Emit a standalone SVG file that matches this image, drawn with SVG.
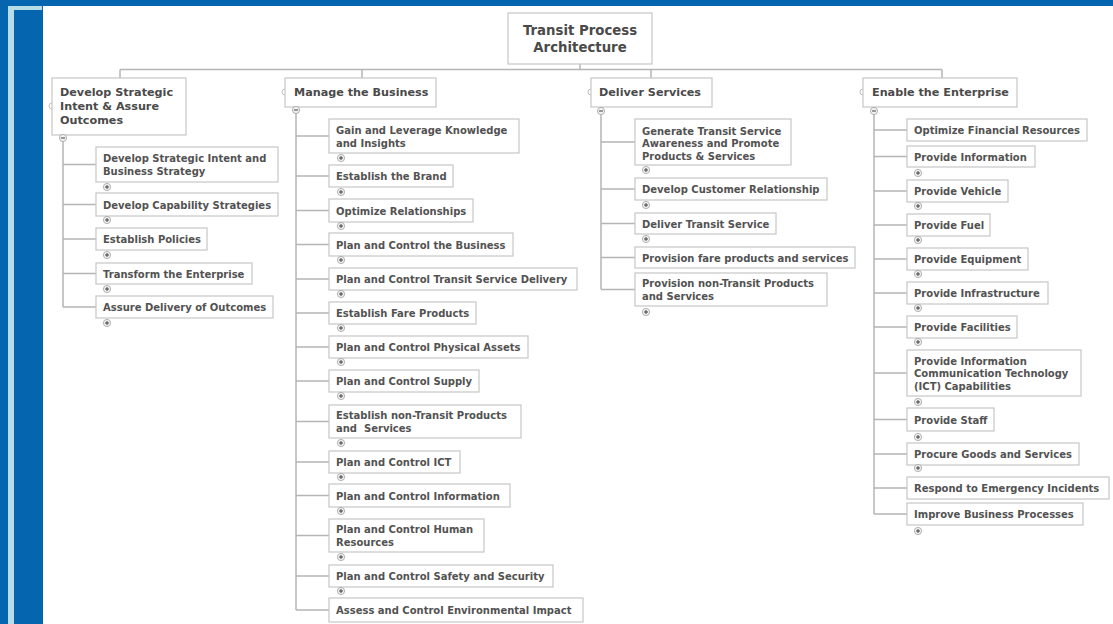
<svg xmlns="http://www.w3.org/2000/svg" width="1113" height="624" viewBox="0 0 1113 624">
  <style>
    .box { fill: #ffffff; stroke: #c6c6c6; stroke-width: 1.2; }
    .t { font-family: "DejaVu Sans", Verdana, sans-serif; font-weight: bold; font-size: 10px; fill: #525252; }
    .h { font-family: "DejaVu Sans", Verdana, sans-serif; font-weight: bold; font-size: 11.2px; fill: #4a4a4a; }
    .r { font-family: "DejaVu Sans", Verdana, sans-serif; font-weight: bold; font-size: 13.3px; fill: #4a4a4a; }
    .conn { fill: none; stroke: #b5b5b5; stroke-width: 1.5; }
    .port { fill: #ffffff; stroke: #c0c0c0; stroke-width: 1; }
  </style>
  <defs>
    <g id="plus">
      <circle r="3.6" fill="#f2f2f2" stroke="#a0a0a0" stroke-width="0.8"/>
      <path d="M-2 0H2M0 -2V2" stroke="#404040" stroke-width="1"/>
    </g>
    <g id="minus">
      <circle r="3.6" fill="#f2f2f2" stroke="#a0a0a0" stroke-width="0.8"/>
      <path d="M-2 0H2" stroke="#404040" stroke-width="1"/>
    </g>
  </defs>

  <!-- page frame -->
  <rect x="0" y="0" width="1113" height="624" fill="#ffffff"/>
  <rect x="0" y="0" width="1113" height="6" fill="#0565ae"/>
  <rect x="0" y="0" width="43" height="624" fill="#0565ae"/>
  <rect x="8" y="6" width="34" height="4" fill="#b7dde6"/>
  <rect x="8" y="6" width="6" height="618" fill="#b7dde6"/>

  <!-- connectors -->
  <g id="connectors" class="conn">
    <path d="M580 64V69.5M120 69.5H942M120 69.5V78M362 69.5V78M651 69.5V78M942 69.5V78"/>
    <!-- Develop Strategic Intent branch -->
    <path d="M63 141V307M63 164.5H96M63 204.5H96M63 239H96M63 273.5H96M63 307H96"/>
    <!-- Manage the Business branch -->
    <path d="M296 113V610M296 136H329M296 176H329M296 210.5H329M296 244.5H329M296 279H329M296 313H329M296 347H329M296 381H329M296 421.5H329M296 462H329M296 495.5H329M296 535.5H329M296 576H329M296 610H329"/>
    <!-- Deliver Services branch -->
    <path d="M601 115V289.5M601 142H635M601 189H635M601 223.5H635M601 257.5H635M601 289.5H635"/>
    <!-- Enable the Enterprise branch -->
    <path d="M874 114V514M874 130H907M874 156.5H907M874 191H907M874 225H907M874 259H907M874 293H907M874 327H907M874 373H907M874 419.5H907M874 454H907M874 488H907M874 514H907"/>
  </g>

  <!-- root -->
  <g id="root">
    <rect class="box" x="508" y="13" width="144" height="51"/>
    <text class="r" x="580" y="34.5" text-anchor="middle">Transit Process</text>
    <text class="r" x="580" y="51.5" text-anchor="middle">Architecture</text>
  </g>

  <!-- level 1 -->
  <g id="strategic-intent">
    <circle class="port" cx="52" cy="106" r="3"/>
    <rect class="box" x="52" y="78" width="134" height="57"/>
    <text class="h" x="60" y="96">Develop Strategic</text>
    <text class="h" x="60" y="110">Intent &amp; Assure</text>
    <text class="h" x="60" y="124">Outcomes</text>
    <use href="#minus" x="63" y="138"/>
  </g>
  <g id="manage-business">
    <circle class="port" cx="285" cy="92" r="3"/>
    <rect class="box" x="285" y="78" width="151" height="29"/>
    <text class="h" x="294" y="96">Manage the Business</text>
    <use href="#minus" x="296" y="110"/>
  </g>
  <g id="deliver-services">
    <circle class="port" cx="591" cy="92" r="3"/>
    <rect class="box" x="591" y="78" width="121" height="29"/>
    <text class="h" x="599" y="96">Deliver Services</text>
    <use href="#minus" x="601" y="111"/>
  </g>
  <g id="enable-enterprise">
    <circle class="port" cx="863" cy="92" r="3"/>
    <rect class="box" x="863" y="78" width="154" height="29"/>
    <text class="h" x="872" y="96">Enable the Enterprise</text>
    <use href="#minus" x="874" y="111"/>
  </g>

  <!-- Develop Strategic Intent children -->
  <g id="si-1"><rect class="box" x="96" y="147" width="182" height="35"/><text class="t" x="103" y="161.5">Develop Strategic Intent and</text><text class="t" x="103" y="174.5">Business Strategy</text><use href="#plus" x="107" y="187"/></g>
  <g id="si-2"><rect class="box" x="96" y="193" width="182" height="23"/><text class="t" x="103" y="208.5">Develop Capability Strategies</text><use href="#plus" x="107" y="220"/></g>
  <g id="si-3"><rect class="box" x="96" y="228" width="111" height="22"/><text class="t" x="103" y="243">Establish Policies</text><use href="#plus" x="107" y="255"/></g>
  <g id="si-4"><rect class="box" x="96" y="263" width="156" height="21"/><text class="t" x="103" y="277.5">Transform the Enterprise</text><use href="#plus" x="107" y="289"/></g>
  <g id="si-5"><rect class="box" x="96" y="296" width="177" height="22"/><text class="t" x="103" y="311">Assure Delivery of Outcomes</text><use href="#plus" x="107" y="323"/></g>

  <!-- Manage the Business children -->
  <g id="mb-1"><rect class="box" x="329" y="119" width="190" height="34"/><text class="t" x="336" y="133.5">Gain and Leverage Knowledge</text><text class="t" x="336" y="146.5">and Insights</text><use href="#plus" x="341" y="158"/></g>
  <g id="mb-2"><rect class="box" x="329" y="165" width="124" height="22"/><text class="t" x="336" y="180">Establish the Brand</text><use href="#plus" x="341" y="192"/></g>
  <g id="mb-3"><rect class="box" x="329" y="199" width="144" height="23"/><text class="t" x="336" y="214.5">Optimize Relationships</text><use href="#plus" x="341" y="226"/></g>
  <g id="mb-4"><rect class="box" x="329" y="233" width="184" height="23"/><text class="t" x="336" y="248.5">Plan and Control the Business</text><use href="#plus" x="341" y="260"/></g>
  <g id="mb-5"><rect class="box" x="329" y="268" width="248" height="22"/><text class="t" x="336" y="283">Plan and Control Transit Service Delivery</text><use href="#plus" x="341" y="294"/></g>
  <g id="mb-6"><rect class="box" x="329" y="302" width="147" height="22"/><text class="t" x="336" y="317">Establish Fare Products</text><use href="#plus" x="341" y="328"/></g>
  <g id="mb-7"><rect class="box" x="329" y="336" width="199" height="22"/><text class="t" x="336" y="351">Plan and Control Physical Assets</text><use href="#plus" x="341" y="362"/></g>
  <g id="mb-8"><rect class="box" x="329" y="370" width="150" height="22"/><text class="t" x="336" y="385">Plan and Control Supply</text><use href="#plus" x="341" y="396"/></g>
  <g id="mb-9"><rect class="box" x="329" y="405" width="192" height="33"/><text class="t" x="336" y="418.5">Establish non-Transit Products</text><text class="t" x="336" y="431.5" xml:space="preserve">and  Services</text><use href="#plus" x="341" y="443"/></g>
  <g id="mb-10"><rect class="box" x="329" y="451" width="131" height="22"/><text class="t" x="336" y="466">Plan and Control ICT</text><use href="#plus" x="341" y="477"/></g>
  <g id="mb-11"><rect class="box" x="329" y="484" width="181" height="23"/><text class="t" x="336" y="499.5">Plan and Control Information</text><use href="#plus" x="341" y="511"/></g>
  <g id="mb-12"><rect class="box" x="329" y="519" width="155" height="33"/><text class="t" x="336" y="532.5">Plan and Control Human</text><text class="t" x="336" y="545.5">Resources</text><use href="#plus" x="341" y="557"/></g>
  <g id="mb-13"><rect class="box" x="329" y="565" width="224" height="22"/><text class="t" x="336" y="580">Plan and Control Safety and Security</text><use href="#plus" x="341" y="591"/></g>
  <g id="mb-14"><rect class="box" x="329" y="598" width="254" height="24"/><text class="t" x="336" y="613.5">Assess and Control Environmental Impact</text></g>

  <!-- Deliver Services children -->
  <g id="ds-1"><rect class="box" x="635" y="119" width="156" height="46"/><text class="t" x="642" y="134.5">Generate Transit Service</text><text class="t" x="642" y="147">Awareness and Promote</text><text class="t" x="642" y="159.5">Products &amp; Services</text><use href="#plus" x="646" y="170"/></g>
  <g id="ds-2"><rect class="box" x="635" y="178" width="192" height="22"/><text class="t" x="642" y="193">Develop Customer Relationship</text><use href="#plus" x="646" y="205"/></g>
  <g id="ds-3"><rect class="box" x="635" y="213" width="141" height="21"/><text class="t" x="642" y="227.5">Deliver Transit Service</text><use href="#plus" x="646" y="239"/></g>
  <g id="ds-4"><rect class="box" x="635" y="247" width="220" height="21"/><text class="t" x="642" y="261.5">Provision fare products and services</text></g>
  <g id="ds-5"><rect class="box" x="635" y="273" width="192" height="33"/><text class="t" x="642" y="287">Provision non-Transit Products</text><text class="t" x="642" y="300">and Services</text><use href="#plus" x="646" y="312"/></g>

  <!-- Enable the Enterprise children -->
  <g id="ee-1"><rect class="box" x="907" y="119" width="180" height="22"/><text class="t" x="914" y="134">Optimize Financial Resources</text></g>
  <g id="ee-2"><rect class="box" x="907" y="146" width="128" height="21"/><text class="t" x="914" y="160.5">Provide Information</text><use href="#plus" x="918" y="173"/></g>
  <g id="ee-3"><rect class="box" x="907" y="180" width="101" height="22"/><text class="t" x="914" y="195">Provide Vehicle</text><use href="#plus" x="918" y="206"/></g>
  <g id="ee-4"><rect class="box" x="907" y="214" width="83" height="22"/><text class="t" x="914" y="229">Provide Fuel</text><use href="#plus" x="918" y="240"/></g>
  <g id="ee-5"><rect class="box" x="907" y="248" width="121" height="22"/><text class="t" x="914" y="263">Provide Equipment</text><use href="#plus" x="918" y="274"/></g>
  <g id="ee-6"><rect class="box" x="907" y="282" width="141" height="22"/><text class="t" x="914" y="297">Provide Infrastructure</text><use href="#plus" x="918" y="308"/></g>
  <g id="ee-7"><rect class="box" x="907" y="316" width="110" height="22"/><text class="t" x="914" y="331">Provide Facilities</text><use href="#plus" x="918" y="342"/></g>
  <g id="ee-8"><rect class="box" x="907" y="350" width="174" height="46"/><text class="t" x="914" y="364.5">Provide Information</text><text class="t" x="914" y="377">Communication Technology</text><text class="t" x="914" y="389.5">(ICT) Capabilities</text><use href="#plus" x="918" y="402"/></g>
  <g id="ee-9"><rect class="box" x="907" y="408" width="87" height="23"/><text class="t" x="914" y="423.5">Provide Staff</text><use href="#plus" x="918" y="437"/></g>
  <g id="ee-10"><rect class="box" x="907" y="443" width="172" height="22"/><text class="t" x="914" y="458">Procure Goods and Services</text><use href="#plus" x="918" y="468"/></g>
  <g id="ee-11"><rect class="box" x="907" y="477" width="202" height="22"/><text class="t" x="914" y="492">Respond to Emergency Incidents</text></g>
  <g id="ee-12"><rect class="box" x="907" y="503" width="176" height="22"/><text class="t" x="914" y="518">Improve Business Processes</text><use href="#plus" x="918" y="531"/></g>
</svg>
